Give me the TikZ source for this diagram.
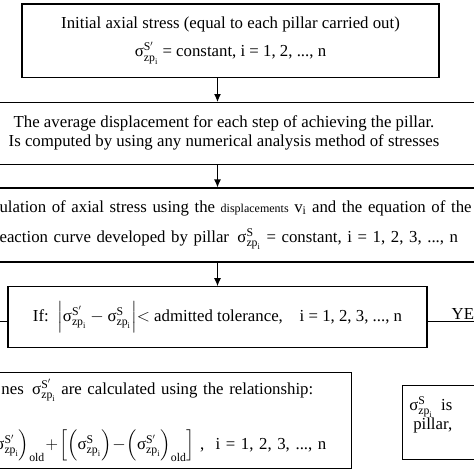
\documentclass[tikz,border=0pt]{standalone}
\usepackage{amsmath}
\usepackage{fontspec}
\setmainfont{Liberation Serif}
\usetikzlibrary{arrows.meta}
\tikzstyle{fProcess} = [rectangle, draw=black, line width=1.1pt, text centered, align=center, inner sep=0pt, font=\fontsize{16.8}{19}\selectfont]
\tikzstyle{fArrow} = [line width=1.1pt, -{Latex[length=8pt,width=7pt]}]
\tikzstyle{fLine} = [line width=1.1pt]
\newcommand{\sigzp}[1]{σ$^{\mathrm{#1}}_{\mathrm{zp}_{\mathrm{i}}}$}

\begin{document}
\begin{tikzpicture}[x=1pt, y=-1pt]
    \useasboundingbox (0,0) rectangle (474,474);
    \clip (0,0) rectangle (474,474);
    \node (init) [fProcess, minimum width=417pt, minimum height=73.5pt] at (230.5,40.75) {Initial axial stress (equal to each pillar carried out)\\[9pt] \sigzp{S'} = constant, i = 1, 2, ..., n};
    \node (avgdisp) [fProcess, minimum width=560pt, minimum height=61.5pt] at (224,133.3) {The average displacement for each step of achieving the pillar.\\ Is computed by using any numerical analysis method of stresses};
    \node (axialcalc) [fProcess, anchor=west, align=left, text width=520pt, inner xsep=29pt, minimum height=74pt] at (-30,225) {ulation of axial stress using the {\fontsize{12}{13}\selectfont displacements} v$_{\mathrm{i}}$ and the equation of the\\[11pt] eaction curve developed by pillar \,\sigzp{S} = constant, i = 1, 2, 3, ..., n};
    \node (check) [fProcess, minimum width=419pt, minimum height=61pt] at (217.5,317.2) {If:\, $\left|\text{\sigzp{S'}} - \text{\sigzp{S}}\right|$$<$ admitted tolerance,\quad i = 1, 2, 3, ..., n};
    \node (update) [fProcess, anchor=east, align=left, text width=345pt, inner xsep=5pt, minimum height=96pt, execute at begin node={\medmuskip=1mu}] at (352,420.5) {nes \,\sigzp{S'} are calculated using the relationship:\\[27pt] \hspace*{-6pt}\sigzp{S'}$\Bigr)_{\mathrm{old}} + \Bigl[\Bigl(\text{\sigzp{S}}\Bigr) - \Bigl(\text{\sigzp{S'}}\Bigr)_{\mathrm{old}}\Bigr]$ , \ i = 1, 2, 3, ..., n};
    \node (final) [fProcess, anchor=north west, align=left, text width=80pt, inner xsep=7pt, minimum height=74pt] at (401.7,385) {\sigzp{S} \,is\\ \hspace*{4pt}pillar,\\ \mbox{}};
    \coordinate (yesend) at (480,321.5);
    \coordinate (noend) at (-10,321.5);

    \draw [fArrow] (init.south -| check.north) -- (avgdisp.north -| check.north);
    \draw [fArrow] (avgdisp.south -| check.north) -- (axialcalc.north -| check.north);
    \draw [fArrow] (axialcalc.south -| check.north) -- (check.north);
    \draw [fLine] (check.east |- yesend) -- node[pos=0.43, anchor=south west, inner sep=1pt, font=\fontsize{16.8}{19}\selectfont] {YES} (yesend);
    \draw [fLine] (check.west |- noend) -- (noend);
\end{tikzpicture}
\end{document}
